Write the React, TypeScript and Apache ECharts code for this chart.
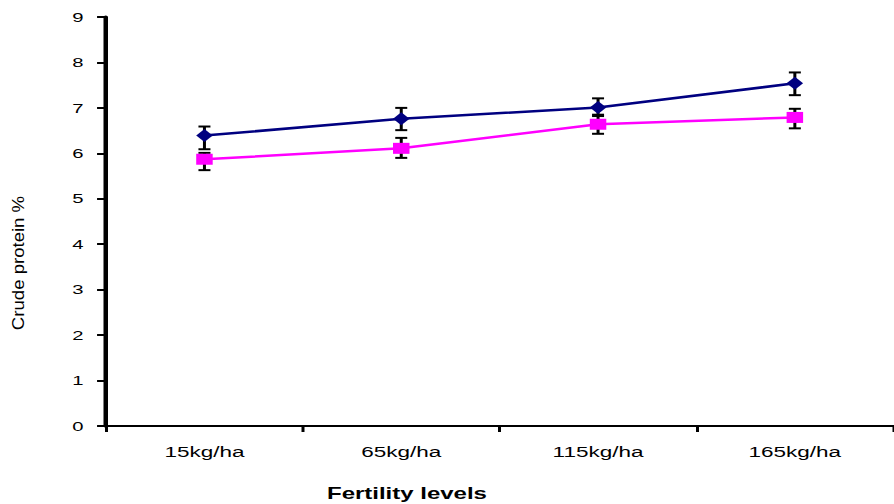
import React, { useEffect, useRef } from "react";
import * as echarts from "echarts";

const categories = ["15kg/ha", "65kg/ha", "115kg/ha", "165kg/ha"];
const yTicks = [0, 1, 2, 3, 4, 5, 6, 7, 8, 9];

const navyValues = [6.39, 6.76, 7.01, 7.54];
const navyHigh = [6.59, 7.0, 7.21, 7.78];
const navyLow = [6.09, 6.51, 6.82, 7.28];

const pinkValues = [5.87, 6.11, 6.64, 6.79];
const pinkHigh = [6.01, 6.34, 6.85, 6.98];
const pinkLow = [5.63, 5.9, 6.43, 6.55];

const FONT = '"Liberation Sans", Arial, Helvetica, sans-serif';
const STRETCH = 1.5;

function errorBarSeries(name: string, low: number[], high: number[]) {
  return {
    type: "custom",
    name,
    z: 1,
    silent: true,
    data: categories.map((_, i) => [i, low[i], high[i]]),
    encode: { x: 0, y: [1, 2] },
    renderItem: (params: any, api: any) => {
      const idx = api.value(0);
      const lo = api.coord([idx, api.value(1)]);
      const hi = api.coord([idx, api.value(2)]);
      const hw = 4;
      const style = { stroke: "#000", lineWidth: 2 };
      return {
        type: "group",
        children: [
          { type: "line", shape: { x1: lo[0], y1: lo[1], x2: hi[0], y2: hi[1] }, style },
          { type: "line", shape: { x1: hi[0] - hw, y1: hi[1], x2: hi[0] + hw, y2: hi[1] }, style },
          { type: "line", shape: { x1: lo[0] - hw, y1: lo[1], x2: lo[0] + hw, y2: lo[1] }, style },
        ],
      };
    },
  };
}

export default function App() {
  const ref = useRef<HTMLDivElement>(null);

  useEffect(() => {
    if (!ref.current) return;
    const chart = echarts.init(ref.current, null, { renderer: "svg" });
    chart.setOption({
      animation: false,
      backgroundColor: "#fff",
      grid: {
        left: 70.7,
        right: 0.5,
        top: 17,
        bottom: 78,
        containLabel: false,
        outerBoundsMode: "none",
      },
      xAxis: {
        type: "category",
        data: categories,
        boundaryGap: true,
        axisLine: { lineStyle: { color: "#000", width: 2 } },
        axisTick: { show: true, length: 6, lineStyle: { color: "#000", width: 2 } },
        axisLabel: { color: "#000", fontSize: 15, fontFamily: FONT, margin: 18 },
        splitLine: { show: false },
      },
      yAxis: {
        type: "value",
        min: yTicks[0],
        max: yTicks[yTicks.length - 1],
        interval: 1,
        axisLine: { show: true, lineStyle: { color: "#000", width: 3 } },
        axisTick: { show: true, length: 6, lineStyle: { color: "#000", width: 2 } },
        axisLabel: { color: "#000", fontSize: 13.5, fontFamily: FONT, margin: 15 },
        splitLine: { show: false },
      },
      graphic: [
        {
          type: "text",
          x: 271.3,
          y: 494,
          style: {
            text: "Fertility levels",
            fill: "#000",
            font: `bold 16px ${FONT}`,
            textAlign: "center",
            textVerticalAlign: "middle",
          },
        },
        {
          type: "text",
          x: 12.2,
          y: 263,
          rotation: Math.PI / 2,
          scaleX: 1.24,
          scaleY: 0.7,
          style: {
            text: "Crude protein %",
            fill: "#000",
            font: `15px ${FONT}`,
            textAlign: "center",
            textVerticalAlign: "middle",
          },
        },
      ],
      series: [
        errorBarSeries("Series 1 error", navyLow, navyHigh),
        errorBarSeries("Series 2 error", pinkLow, pinkHigh),
        {
          type: "line",
          name: "Series 1",
          z: 3,
          data: navyValues,
          symbol: "diamond",
          symbolSize: [11, 13],
          itemStyle: { color: "#000080" },
          lineStyle: { color: "#000080", width: 2.5 },
        },
        {
          type: "line",
          name: "Series 2",
          z: 3,
          data: pinkValues,
          symbol: "rect",
          symbolSize: [11, 11],
          itemStyle: { color: "#FF00FF" },
          lineStyle: { color: "#FF00FF", width: 2.5 },
        },
      ],
    });
    return () => chart.dispose();
  }, []);

  return (
    <div
      ref={ref}
      style={{
        position: "fixed",
        left: 0,
        top: 0,
        width: 894 / STRETCH,
        height: 504,
        transform: `scaleX(${STRETCH})`,
        transformOrigin: "0 0",
        background: "#fff",
      }}
    />
  );
}
